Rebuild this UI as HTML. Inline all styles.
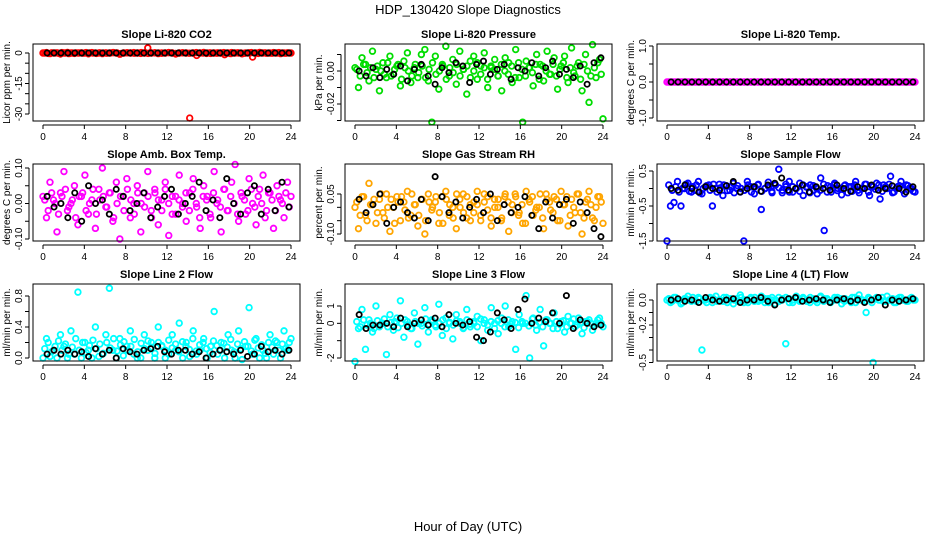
<!DOCTYPE html>
<html><head><meta charset="utf-8">
<style>
body{margin:0;background:#fff;}
svg{display:block;font-family:"Liberation Sans",Arial,sans-serif;}
</style></head>
<body>
<svg id="chart" width="936" height="540" viewBox="0 0 936 540">
<text x="468" y="14" text-anchor="middle" font-size="13">HDP_130420  Slope Diagnostics</text>
<text x="468" y="531" text-anchor="middle" font-size="13">Hour of Day (UTC)</text>
</svg>
<script>
const xTicks = [0,4,8,12,16,20,24];
const titles = ["Slope Li-820 CO2","Slope Li-820 Pressure","Slope Li-820 Temp.","Slope Amb. Box Temp.","Slope Gas Stream RH","Slope Sample Flow","Slope Line 2 Flow","Slope Line 3 Flow","Slope Line 4 (LT) Flow"];
const yTitles = ["Licor ppm per min.","kPa per min.","degrees C per min.","degrees C per min.","percent per min.","ml/min per min.","ml/min per min.","ml/min per min.","ml/min per min."];
const colors = ["#ff0000","#00dd00","#ff00ff","#ff00ff","#ffa500","#0000ff","#00ffff","#00ffff","#00ffff"];

const co2 = [0,0.2,-0.3,0,0.1,-0.5,0,0.3,0,-0.2,0,0.1,0,-0.4,0.2,0,0,-0.3,0.1,0,0.2,0,-0.6,0,0.1,0,0.2,0,-0.2,0,2.5,0,0.1,-0.3,0,0,0.2,0,-0.5,0,0.1,0,-32,0,-1.2,0,0.3,0,-0.2,0,0.1,0,-0.8,0,0.2,0,0,-0.4,0,0.1,-2,0,0.3,0,-0.1,0,0.2,0,-0.3,0,0.1,0];
const co2Dense = [0,-0.2,0.1,0,-0.1,0.2,0,-0.3,0,0.1,0,-0.1,0.2,0,0,-0.2,0.1,0,-0.1,0,0.2,0,-0.3,0,0.1,0,-0.1,0,0.2,0,-0.2,0,0.1,0,-0.1,0,0.2,0,-0.2,0,0.1,0,-0.1,0,0.2,0,0,-0.2,0.1,0,-0.1,0,0.2,0,-0.3,0,0.1,0,-0.1,0,0.2,0,-0.2,0,0.1,0,-0.1,0,0.2,0,-0.1,0];
const co2Black = [0,0,0,0,0,0,0,0,0,0,0,0,0,0,0,0,0,0,0,0,0,0,0,0,0,0,0,0,0,0,0,0,0,0,0,0];
const pressure = [0.002,-0.01,0.008,0.004,-0.006,0.012,0.001,-0.012,0.005,-0.004,0.009,-0.002,0.003,-0.009,0.006,0.011,-0.007,0.002,-0.004,0.01,0.013,-0.006,-0.031,0.009,-0.011,0.004,0.015,-0.003,0.007,-0.008,0.012,0.001,-0.014,0.006,0.009,-0.005,0.003,0.011,-0.01,0.002,0.007,-0.003,-0.012,0.008,0.005,-0.007,0.013,-0.004,-0.031,0.006,0.002,-0.009,0.01,0.004,-0.006,0.012,-0.002,0.008,-0.011,0.003,0.009,-0.007,0.014,-0.003,0.005,-0.012,0.01,-0.019,0.016,-0.004,0.007,-0.029];
const pressureDense = [0.001,-0.003,0.004,-0.001,0.002,-0.004,0.003,0,-0.002,0.005,-0.003,0.001,0.004,-0.005,0.002,0,-0.003,0.004,-0.001,0.003,-0.004,0.001,0.005,-0.002,0,0.003,-0.005,0.002,-0.001,0.004,-0.003,0.001,0.003,-0.004,0,0.005,-0.002,0.002,-0.005,0.003,0.001,-0.003,0.004,0,-0.002,0.003,-0.004,0.005,0.001,-0.003,0.002,-0.001,0.004,-0.005,0.003,0,-0.002,0.004,-0.003,0.001,0.005,-0.004,0.002,-0.001,0.003,-0.005,0.004,0,-0.003,0.002,0.005,-0.002];
const pressureBlack = [0,-0.003,0.002,-0.004,0.001,-0.002,0.003,-0.006,0.001,0.004,-0.003,-0.008,0.002,-0.001,0.005,0.003,-0.007,0.004,0.006,-0.002,0.001,0.004,-0.005,0.002,0,0.005,-0.003,0.002,0.006,-0.002,0.001,-0.004,0.003,-0.008,0.005,0.008];
const licorTemp = [0,0,0,0,0,0,0,0,0,0,0,0,0,0,0,0,0,0,0,0,0,0,0,0,0,0,0,0,0,0,0,0,0,0,0,0,0,0,0,0,0,0,0,0,0,0,0,0,0,0,0,0,0,0,0,0,0,0,0,0,0,0,0,0,0,0,0,0,0,0,0,0];
const licorTempDense = [0,0,0,0,0,0,0,0,0,0,0,0,0,0,0,0,0,0,0,0,0,0,0,0,0,0,0,0,0,0,0,0,0,0,0,0,0,0,0,0,0,0,0,0,0,0,0,0,0,0,0,0,0,0,0,0,0,0,0,0,0,0,0,0,0,0,0,0,0,0,0,0];
const licorTempBlack = [0,0,0,0,0,0,0,0,0,0,0,0,0,0,0,0,0,0,0,0,0,0,0,0,0,0,0,0,0,0,0,0,0,0,0,0];
const ambTemp = [0.02,-0.04,0.06,0.01,-0.08,0.03,0.09,-0.02,0.0,0.05,-0.06,0.02,0.08,-0.03,0.01,-0.07,0.04,0.1,-0.01,0.03,-0.05,0.06,-0.1,0.02,0.07,-0.04,0.0,0.05,-0.08,0.03,0.09,-0.02,0.04,-0.06,0.01,0.06,-0.09,0.02,-0.03,0.08,0.0,-0.05,0.03,0.07,-0.01,-0.07,0.05,0.02,-0.04,0.09,0.01,-0.08,0.04,-0.02,0.06,0.11,-0.05,0.02,-0.03,0.07,0.0,-0.06,0.04,0.08,-0.02,0.03,-0.07,0.05,0.01,-0.04,0.06,0.02];
const ambTempDense = [0.01,-0.02,0.03,0.0,-0.03,0.02,0.04,-0.01,0.01,-0.04,0.02,0.03,-0.02,0.0,0.04,-0.03,0.01,0.02,-0.01,0.03,-0.04,0.0,0.02,-0.02,0.04,0.01,-0.03,0.03,0.0,-0.01,0.02,-0.04,0.03,0.01,-0.02,0.04,0.0,-0.03,0.02,0.01,-0.01,0.03,-0.02,0.04,0.0,-0.04,0.02,0.01,-0.03,0.03,0.0,-0.01,0.04,-0.02,0.02,0.0,-0.03,0.03,0.01,-0.02,0.04,-0.01,0.02,0.0,-0.04,0.03,0.01,-0.02,0.02,0.0,0.03,-0.01];
const ambTempBlack = [0.02,-0.01,0.0,-0.04,0.03,-0.05,0.05,0.0,0.01,-0.03,0.04,0.02,-0.02,0.0,0.03,-0.04,-0.01,0.02,0.04,-0.03,0.0,0.02,0.06,-0.02,0.01,-0.04,0.07,0.0,-0.03,0.03,0.05,-0.03,0.04,-0.02,0.06,-0.01];
const rh = [0.0,-0.08,0.04,-0.03,0.09,0.01,-0.06,0.03,-0.02,0.05,-0.09,0.0,0.04,-0.05,0.02,0.06,-0.03,0.01,-0.07,0.03,-0.1,0.05,-0.01,0.02,-0.06,0.04,0.06,-0.03,0.0,-0.08,0.03,0.05,-0.04,0.01,-0.02,0.06,-0.05,0.02,0.04,-0.07,0.0,0.03,-0.04,0.05,-0.09,0.01,0.04,-0.02,-0.06,0.06,0.02,-0.03,0.0,0.05,-0.08,0.03,-0.01,0.04,-0.05,0.06,0.01,-0.07,0.03,-0.02,0.05,-0.1,0.02,0.06,-0.04,0.0,0.04,-0.06];
const rhDense = [0.02,-0.03,0.04,-0.05,0.01,0.03,-0.02,0.05,-0.04,0.0,0.03,-0.06,0.02,0.04,-0.01,-0.04,0.05,0.01,-0.03,0.03,-0.05,0.02,0.0,0.04,-0.02,-0.06,0.03,0.01,-0.04,0.05,0.0,-0.02,0.04,-0.05,0.02,0.01,-0.03,0.05,-0.01,-0.04,0.03,0.0,-0.05,0.04,0.02,-0.02,0.05,-0.03,0.01,-0.06,0.03,0.04,-0.01,0.0,-0.04,0.05,0.02,-0.02,0.03,-0.05,0.01,0.04,-0.03,0.0,0.05,-0.02,-0.04,0.03,0.01,-0.05,0.04,0.02];
const rhBlack = [0.03,-0.02,0.01,0.05,-0.06,0.0,0.02,-0.02,-0.04,0.03,-0.05,0.115,0.04,-0.02,0.02,-0.04,0.0,0.03,-0.02,0.05,-0.05,0.01,-0.02,0.0,0.04,-0.03,-0.08,0.02,-0.04,0.01,0.03,-0.06,0.02,-0.02,-0.08,-0.11];
const sampleFlow = [-1.5,-0.5,-0.4,0.2,-0.5,0.0,0.15,-0.1,-0.05,0.2,-0.15,0.05,0.1,-0.5,0.0,0.12,-0.2,0.08,-0.05,0.15,0.0,-0.1,-1.5,0.2,0.05,-0.15,0.1,-0.6,0.0,0.18,-0.08,0.1,0.55,-0.12,0.05,0.2,-0.1,0.0,0.15,-0.2,0.05,0.1,-0.05,-0.15,0.3,-1.2,0.08,-0.1,0.15,0.0,-0.18,0.1,0.05,-0.08,0.2,-0.12,0.0,0.12,-0.2,0.05,0.15,-0.3,0.1,0.0,0.35,-0.1,0.05,0.2,-0.15,0.08,0.0,-0.1];
const sampleFlowDense = [0.1,-0.05,0.05,-0.1,0.0,0.12,-0.08,0.05,0.1,-0.12,0.0,0.08,-0.05,0.12,-0.1,0.02,0.1,-0.06,0.05,-0.12,0.08,0.0,-0.05,0.1,-0.1,0.05,0.12,-0.08,0.0,0.06,-0.12,0.1,0.02,-0.05,0.12,-0.1,0.05,0.0,-0.08,0.1,0.04,-0.12,0.08,0.0,-0.05,0.12,-0.1,0.05,0.1,-0.06,0.0,0.08,-0.12,0.05,0.1,-0.05,0.0,0.12,-0.1,0.06,-0.02,0.1,-0.08,0.05,0.12,-0.12,0.0,0.08,-0.05,0.1,0.02,-0.08];
const sampleFlowBlack = [0.0,-0.05,0.1,0.0,-0.1,0.05,0.0,-0.05,0.08,0.2,-0.1,0.0,0.05,-0.08,0.1,0.15,0.3,-0.05,0.0,0.1,-0.1,0.05,0.0,-0.05,0.1,0.0,-0.08,0.05,0.0,0.1,-0.05,0.0,0.08,0.0,-0.1,0.05];
const line2 = [0.0,0.25,0.02,0.1,0.0,0.3,0.15,0.0,0.35,0.05,0.85,0.0,0.2,0.1,0.0,0.4,0.02,0.05,0.3,0.9,0.1,0.0,0.25,0.03,0.15,0.35,0.05,0.0,0.0,0.3,0.1,0.2,0.0,0.4,0.15,0.0,0.05,0.3,0.1,0.45,0.0,0.2,0.02,0.35,0.05,0.1,0.25,0.0,0.15,0.6,0.05,0.2,0.0,0.3,0.1,0.0,0.35,-0.02,0.15,0.65,0.05,0.25,0.0,0.1,0.0,0.3,0.05,0.2,0.0,0.35,0.1,0.25];
const line2Dense = [0.12,0.2,0.08,0.15,0.22,0.1,0.18,0.05,0.14,0.25,0.1,0.2,0.07,0.16,0.23,0.12,0.18,0.06,0.2,0.13,0.25,0.09,0.17,0.21,0.1,0.15,0.24,0.08,0.19,0.12,0.22,0.14,0.06,0.2,0.16,0.1,0.23,0.13,0.18,0.08,0.21,0.15,0.11,0.25,0.09,0.17,0.2,0.12,0.07,0.22,0.16,0.1,0.19,0.14,0.24,0.08,0.18,0.12,0.21,0.15,0.09,0.23,0.13,0.17,0.06,0.2,0.14,0.22,0.1,0.18,0.12,0.2];
const line2Black = [0.05,0.1,0.05,0.1,0.05,0.08,0.02,0.12,0.05,0.1,0.0,0.12,0.08,0.05,0.1,0.12,0.15,0.08,0.05,0.1,0.1,0.05,0.08,0.0,0.05,0.1,0.08,0.05,0.1,0.02,0.05,0.15,0.08,0.1,0.05,0.1];
const line3 = [-2.2,-0.3,0.8,-1.5,0.2,-0.5,1.0,-0.2,0.0,-1.8,0.5,-0.4,0.3,1.3,-0.8,0.1,-0.3,0.6,-1.2,0.0,0.9,-0.5,0.2,-0.1,1.1,-0.7,0.3,0.0,-0.9,0.5,0.1,-0.3,0.8,-0.2,0.0,0.4,-1.0,0.2,-0.4,0.9,0.0,-0.6,0.3,1.0,-0.2,0.1,-1.5,0.5,0.0,1.6,-2.0,0.3,-0.4,0.8,-1.3,0.2,0.0,0.6,-0.3,0.1,-0.5,0.4,0.0,-0.2,0.3,-0.6,0.1,0.2,-0.4,0.0,0.3,-0.2];
const line3Dense = [0.1,-0.2,0.2,-0.1,0.0,-0.3,0.15,-0.05,0.25,-0.2,0.05,0.1,-0.25,0.0,0.2,-0.1,-0.3,0.1,0.0,-0.15,0.25,-0.05,0.1,-0.2,0.0,0.2,-0.3,0.05,-0.1,0.15,0.0,-0.25,0.2,-0.05,0.1,-0.2,0.25,0.0,-0.1,0.1,-0.3,0.15,0.0,-0.2,0.2,-0.05,0.05,-0.25,0.1,0.0,-0.15,0.25,-0.1,0.05,-0.2,0.2,0.0,-0.3,0.1,-0.05,0.15,-0.2,0.0,0.25,-0.1,0.05,-0.25,0.1,0.0,-0.15,0.2,0.0];
const line3Black = [0.5,-0.3,-0.1,-0.1,0.0,-0.2,0.3,-0.2,0.0,0.2,-0.1,0.3,-0.2,0.5,0.0,-0.1,0.1,-0.8,-1.0,-0.5,0.6,0.2,-0.3,0.8,1.4,0.0,0.3,0.1,0.6,0.0,1.6,-0.3,0.2,0.0,-0.2,-0.1];
const line4 = [0.0,-0.02,0.02,0.0,-0.03,0.01,0.03,-0.01,0.0,0.02,-0.4,0.0,0.01,-0.02,0.03,0.0,-0.01,0.02,0.0,-0.03,0.01,0.04,-0.02,0.0,0.02,-0.01,0.0,0.03,-0.02,0.01,0.0,-0.03,0.02,0.0,-0.35,0.01,-0.02,0.03,0.0,0.01,-0.01,0.02,0.0,-0.02,0.03,0.01,0.0,-0.01,0.02,0.0,-0.03,0.01,0.0,0.02,-0.02,0.04,0.0,-0.1,0.01,-0.5,0.02,0.0,-0.01,0.03,0.0,-0.02,0.01,0.02,0.0,-0.01,0.02,0.0];
const line4Dense = [0.01,-0.01,0.02,0.0,-0.02,0.01,0.0,0.02,-0.01,0.01,0.0,-0.02,0.02,0.01,-0.01,0.0,0.02,-0.02,0.01,0.0,-0.01,0.02,0.0,-0.02,0.01,0.02,-0.01,0.0,0.01,-0.02,0.02,0.0,-0.01,0.01,0.02,-0.02,0.0,0.01,-0.01,0.02,0.0,-0.02,0.01,0.0,0.02,-0.01,0.01,-0.02,0.0,0.02,0.01,-0.01,0.0,-0.02,0.02,0.01,0.0,-0.01,0.02,-0.02,0.01,0.0,0.02,-0.01,0.0,0.01,-0.02,0.02,0.0,-0.01,0.01,0.0];
const line4Black = [0.0,0.01,-0.01,0.0,-0.02,0.02,0.0,-0.01,0.0,0.01,-0.02,0.0,0.0,0.02,-0.01,-0.04,0.0,0.01,0.02,-0.01,0.0,0.01,0.0,-0.02,0.0,0.01,-0.01,0.0,-0.02,0.0,0.02,-0.04,0.0,-0.01,0.0,0.01];

const yTicks1 = [0,-5,-10,-15,-20,-25,-30], yLabels1 = ["0","","","-15","","","-30"];
const yTicks2 = [0.01,0,-0.01,-0.02,-0.03], yLabels2 = ["","0.00","","-0.02",""];
const yTicks3 = [1,0.5,0,-0.5,-1], yLabels3 = ["1.0","","0.0","","-1.0"];
const yTicks4 = [0.1,0.05,0,-0.05,-0.1], yLabels4 = ["0.10","","0.00","","-0.10"];
const yTicks5 = [0.05,0,-0.05,-0.1], yLabels5 = ["0.05","","","-0.10"];
const yTicks6 = [0.5,0,-0.5,-1,-1.5], yLabels6 = ["0.5","","-0.5","","-1.5"];
const yTicks7 = [0.8,0.6,0.4,0.2,0.0], yLabels7 = ["0.8","","0.4","","0.0"];
const yTicks8 = [1,0,-1,-2], yLabels8 = ["1","0","","-2"];
const yTicks9 = [0,-0.1,-0.2,-0.3,-0.4,-0.5], yLabels9 = ["0.0","","-0.2","","","-0.5"];

const series = [co2,pressure,licorTemp,ambTemp,rh,sampleFlow,line2,line3,line4];
const denseSeries = [co2Dense,pressureDense,licorTempDense,ambTempDense,rhDense,sampleFlowDense,line2Dense,line3Dense,line4Dense];
const blacks = [co2Black,pressureBlack,licorTempBlack,ambTempBlack,rhBlack,sampleFlowBlack,line2Black,line3Black,line4Black];
const yTicksAll = [yTicks1,yTicks2,yTicks3,yTicks4,yTicks5,yTicks6,yTicks7,yTicks8,yTicks9];
const yLabelsAll = [yLabels1,yLabels2,yLabels3,yLabels4,yLabels5,yLabels6,yLabels7,yLabels8,yLabels9];
// axis calibration: [value A, pixel offset A from row top, value B, pixel offset B]
const yCal = [[0,9,-30,70],[0,27,-0.02,60],[1,2,-1,74],[0.1,4,-0.1,75],[0.05,30,-0.1,70],[0.5,7,-1.5,77],[0.8,12,0,74],[1,22,-2,74],[0,16,-0.5,78.5]];

const NS = "http://www.w3.org/2000/svg";
const svg = document.getElementById('chart');
function mk(tag, attrs, parent){const e=document.createElementNS(NS,tag);for(const k in attrs)e.setAttribute(k,attrs[k]);(parent||svg).appendChild(e);return e;}

for(let p=0;p<9;p++){
  const col=p%3,row=Math.floor(p/3);
  const bx=33+312*col, bw=267, by=44+120*row, bh=77;
  const x0=43+312*col, x1=291+312*col;
  const xs=h=>x0+(x1-x0)*h/24;
  const c=yCal[p];
  const ys=v=>by+c[1]+(v-c[0])*(c[3]-c[1])/(c[2]-c[0]);
  const g=mk('g',{});
  
  
  const t=mk('text',{x:bx+bw/2,y:by-6,'text-anchor':'middle','font-size':'11','font-weight':'bold'},g);
  t.textContent=titles[p];
  
  
  const yt=mk('text',{x:0,y:0,'text-anchor':'middle','font-size':'10',transform:`translate(${bx-23},${by+bh/2}) rotate(-90)`},g);
  yt.textContent=yTitles[p];
  
  
  const clipId='clip'+p;
  const cp=mk('clipPath',{id:clipId},g);
  mk('rect',{x:bx,y:by-4,width:bw,height:bh+8},cp);
  const pts=mk('g',{'clip-path':`url(#${clipId})`},g);
  const ser=series[p];
  ser.forEach((v,i)=>{
    const h=24*i/(ser.length-1);
    const el=mk('circle',{cx:xs(h),cy:ys(v),r:2.8,fill:'none',stroke:colors[p],'stroke-width':1.8},pts);
    
    
  });
  const ds=denseSeries[p];
  ds.forEach((v,i)=>{
    const h=0.17+23.66*i/(ds.length-1);
    const el=mk('circle',{cx:xs(h),cy:ys(v),r:2.8,fill:'none',stroke:colors[p],'stroke-width':1.8},pts);
    
    
  });
  const bl=blacks[p];
  bl.forEach((v,i)=>{
    const h=0.4+23.4*i/(bl.length-1);
    const el=mk('circle',{cx:xs(h),cy:ys(v),r:2.6,fill:'none',stroke:'#000','stroke-width':1.8},pts);
    
    
  });
  const box=mk('rect',{x:bx,y:by,width:bw,height:bh,fill:'none',stroke:'#000','stroke-width':1},g);
  
  
  mk('line',{x1:x0,x2:x1,y1:by+bh+4,y2:by+bh+4,stroke:'#000'},g);
  xTicks.forEach(h=>{
    mk('line',{x1:xs(h),x2:xs(h),y1:by+bh+4,y2:by+bh+8,stroke:'#000'},g);
    const l=mk('text',{x:xs(h),y:by+bh+19,'text-anchor':'middle','font-size':'10'},g);
    l.textContent=h;
    
    
  });
  const tk=yTicksAll[p],lb=yLabelsAll[p];
  mk('line',{x1:bx-4,x2:bx-4,y1:ys(tk[0]),y2:ys(tk[tk.length-1]),stroke:'#000'},g);
  tk.forEach((v,i)=>{
    mk('line',{x1:bx-8,x2:bx-4,y1:ys(v),y2:ys(v),stroke:'#000'},g);
    if(lb[i]){
      const l=mk('text',{x:0,y:0,'text-anchor':'middle','font-size':'10',transform:`translate(${bx-11},${ys(v)}) rotate(-90)`},g);
      l.textContent=lb[i];
      
      
    }
  });
}
</script>
</body></html>
